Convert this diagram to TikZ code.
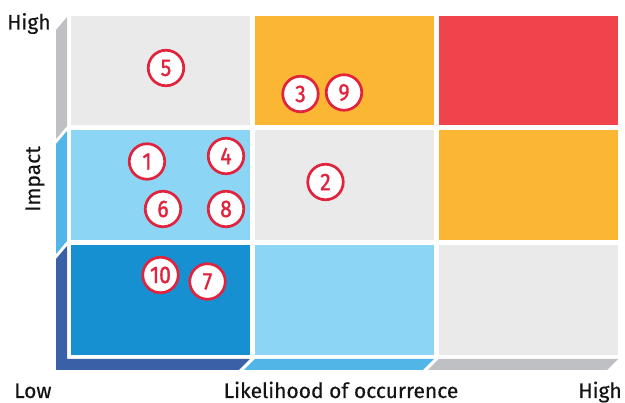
\documentclass[tikz,border=0pt]{standalone}
\usepackage{fontspec}
\setmainfont{Fira Sans}[FakeBold=0.4]
\newfontfamily\numfont{Fira Sans}[FakeStretch=0.88,FakeBold=1.3]
\definecolor{cgray}{HTML}{EAEAEA}
\definecolor{corange}{HTML}{FBB634}
\definecolor{cred}{HTML}{EF444B}
\definecolor{clblue}{HTML}{8DD5F5}
\definecolor{cblue}{HTML}{1690D0}
\definecolor{wgray}{HTML}{BFC0C4}
\definecolor{wlblue}{HTML}{52B5E8}
\definecolor{wdblue}{HTML}{3A61A8}
\definecolor{rred}{HTML}{E2233D}
\definecolor{txt}{HTML}{141414}
\begin{document}
\begin{tikzpicture}[x=1pt,y=-1pt,
  risk/.style={circle, draw=rred, fill=white, line width=2.7pt, minimum size=35.5pt,
    inner sep=0pt, text=rred, font=\numfont\fontsize{24}{24}\selectfont},
  lab/.style={font=\fontsize{21}{21}\selectfont, text=txt, inner sep=0pt}]
\useasboundingbox (0,0) rectangle (625,403);
\fill[white] (0,0) rectangle (625,403);
% grid cells
\fill[cgray]   (71,16)  rectangle (250,125);
\fill[corange] (255,16) rectangle (434,125);
\fill[cred]    (439,16) rectangle (618,125);
\fill[clblue]  (71,130)  rectangle (250,240);
\fill[cgray]   (255,130) rectangle (434,240);
\fill[corange] (439,130) rectangle (618,240);
\fill[cblue]   (71,245)  rectangle (250,355);
\fill[clblue]  (255,245) rectangle (434,355);
\fill[cgray]   (439,245) rectangle (618,355);
% left wall
\fill[wgray]  (67,17) -- (56,30) -- (56,139) -- (67,126) -- cycle;
\fill[wlblue] (67,131) -- (56,144) -- (56,254) -- (67,241) -- cycle;
\fill[wdblue] (67,246) -- (67,359) -- (250,359) -- (239,370) -- (56,370) -- (56,259) -- cycle;
% floor
\fill[wlblue] (255,359) -- (434,359) -- (423,370) -- (244,370) -- cycle;
\fill[wgray]  (439,359) -- (618,359) -- (607,370) -- (428,370) -- cycle;
% risks
\node[risk] (r5)  at (166,68)  {5};
\node[risk] (r3)  at (300.5,94) {3};
\node[risk] (r9)  at (344,92.5) {9};
\node[risk] (r1)  at (147,161.5) {1};
\node[risk] (r4)  at (226,156) {4};
\node[risk] (r6)  at (163,209) {6};
\node[risk] (r8)  at (226,209) {8};
\node[risk] (r2)  at (325.5,182) {2};
\node[risk] (r10) at (160.5,275) {10};
\node[risk] (r7)  at (207.5,281.5) {7};
% labels
\node[lab, anchor=base west] (highy) at (7,29.5) {High};
\node[lab, anchor=base, rotate=90] (impact) at (40,179) {Impact};
\node[lab, anchor=base west] (low) at (14,398) {Low};
\node[lab, anchor=base] (likely) at (341,398) {Likelihood of occurrence};
\node[lab, anchor=base east] (highx) at (622,398) {High};
\end{tikzpicture}
\end{document}
